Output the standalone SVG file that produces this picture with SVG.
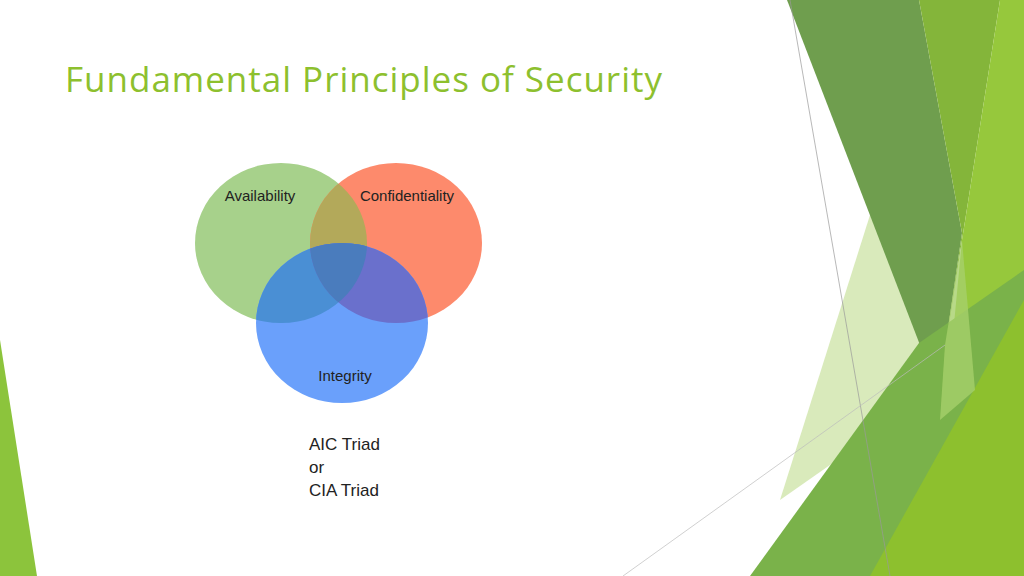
<svg xmlns="http://www.w3.org/2000/svg" width="1024" height="576" viewBox="0 0 1024 576">
<style>
.lbl{font-family:"Liberation Sans",Arial,sans-serif;font-size:15px;fill:#222;text-anchor:middle}
.tr{font-family:"Liberation Sans",Arial,sans-serif;font-size:17px;fill:#222}
</style>
<defs>
<clipPath id="cg"><ellipse cx="281" cy="243" rx="86" ry="80"/></clipPath>
<clipPath id="cr"><ellipse cx="396" cy="243" rx="86" ry="80"/></clipPath>
</defs>
<rect width="1024" height="576" fill="#fff"/>
<g id="decor">
<polygon points="0,340 37,576 0,576" fill="#8cc43c"/>
<polygon points="780,500 870,215 945,345 880,430" fill="#d9eabb"/>
<polygon points="787,0 919,0 962,233 940,383 920,345" fill="#6f9e4e"/>
<polygon points="919,0 1000,0 962,240 940,383 962,233" fill="#84b53a"/>
<polygon points="1000,0 1024,0 1024,576 930,576 962,240" fill="#96c83c"/>
<polygon points="750,576 919,343 1024,270 1024,576" fill="#7ab24a"/>
<polygon points="870,576 1024,300 1024,576" fill="#8dc02e"/>
<polygon points="945,345 962,240 975,390 940,420" fill="#a6cf6a" opacity="0.8"/>
<line x1="790" y1="0" x2="890" y2="576" stroke="#999" stroke-width="0.7"/>
<line x1="623" y1="576" x2="945" y2="345" stroke="#bbb" stroke-width="0.7"/>
</g>
<text x="65" y="92" font-family="'Open Sans',sans-serif" font-size="35" fill="#8dc02e" textLength="597">Fundamental Principles of Security</text>
<g id="availability">
<ellipse cx="281" cy="243" rx="86" ry="80" fill="#a7d18b"/>
<text class="lbl" x="260" y="201">Availability</text>
</g>
<g id="confidentiality">
<ellipse cx="396" cy="243" rx="86" ry="80" fill="#fd8a6c"/>
<ellipse cx="396" cy="243" rx="86" ry="80" fill="#b3a95a" clip-path="url(#cg)"/>
<text class="lbl" x="407" y="201">Confidentiality</text>
</g>
<g id="integrity">
<ellipse cx="342" cy="323" rx="86" ry="80" fill="#6aa0fb"/>
<ellipse cx="342" cy="323" rx="86" ry="80" fill="#4a8fd4" clip-path="url(#cg)"/>
<ellipse cx="342" cy="323" rx="86" ry="80" fill="#6a70cc" clip-path="url(#cr)"/>
<g clip-path="url(#cg)"><ellipse cx="342" cy="323" rx="86" ry="80" fill="#4a7cbd" clip-path="url(#cr)"/></g>
<text class="lbl" x="345" y="381">Integrity</text>
</g>
<g id="caption">
<text class="tr" x="309" y="450">AIC Triad</text>
<text class="tr" x="309" y="473">or</text>
<text class="tr" x="309" y="496">CIA Triad</text>
</g>
<g id="connectors"/>
</svg>
